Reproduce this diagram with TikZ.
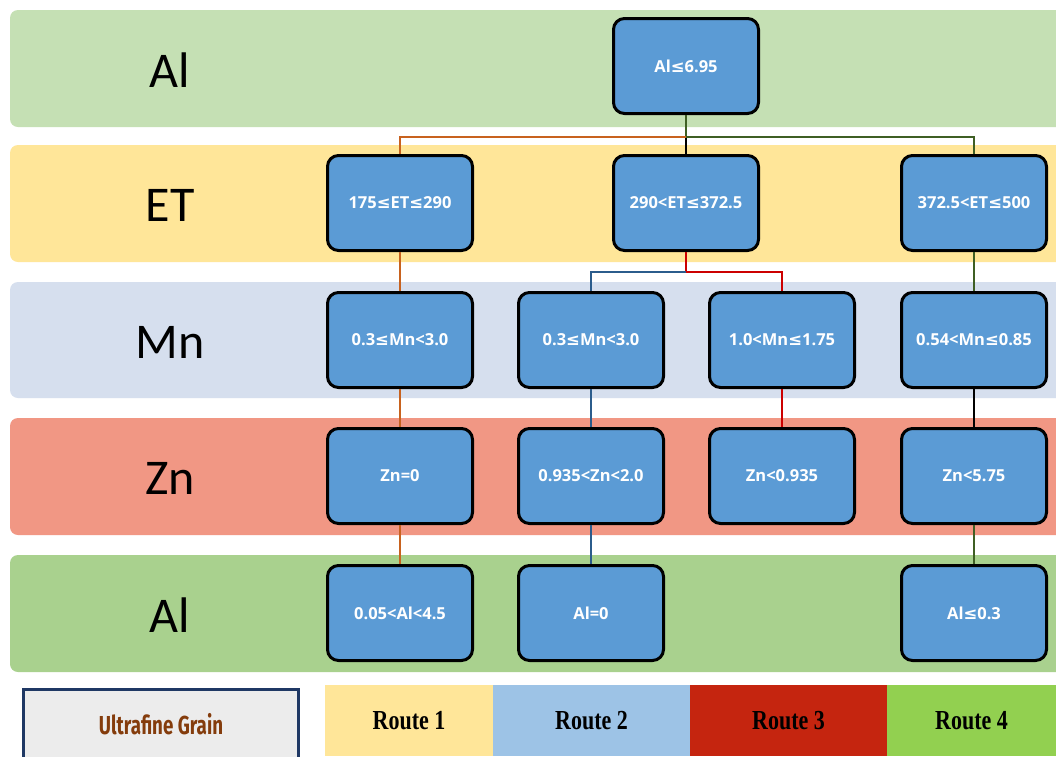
\documentclass[tikz,border=0pt]{standalone}
\usepackage{fontspec}
\setmainfont{Liberation Serif}
\newfontfamily\boxfont{Open Sans}
\newfontfamily\symfont{DejaVu Sans}
\newfontfamily\labfont{Carlito}
\newfontfamily\ufgfont{Fira Sans}
\newcommand{\lesym}{{\symfont\bfseries ≤}}
\usetikzlibrary{calc}
\definecolor{bandA}{HTML}{C5E0B4}
\definecolor{bandB}{HTML}{FFE699}
\definecolor{bandC}{HTML}{D6DFEE}
\definecolor{bandD}{HTML}{F19784}
\definecolor{bandE}{HTML}{A9D18E}
\definecolor{boxblue}{HTML}{5B9BD5}
\definecolor{lorange}{HTML}{C8621E}
\definecolor{lgreen}{HTML}{3F5F24}
\definecolor{lblue}{HTML}{2B5C8C}
\definecolor{lred}{HTML}{CC0000}
\definecolor{legR1}{HTML}{FFE699}
\definecolor{legR2}{HTML}{9DC3E6}
\definecolor{legR3}{HTML}{C5250F}
\definecolor{legR4}{HTML}{92D050}
\definecolor{ufgborder}{HTML}{1F3864}
\definecolor{ufgfill}{HTML}{ECECEC}
\definecolor{ufgtext}{HTML}{843C0C}
\tikzset{
  band/.style={rounded corners=8pt, draw=none},
  cbox/.style={draw=black, line width=3pt, fill=boxblue, rounded corners=11pt,
    minimum width=145pt, minimum height=95pt, inner sep=0pt,
    text=white, font=\boxfont\bfseries\fontsize{16.5}{19}\selectfont},
  rowlab/.style={font=\labfont\fontsize{50}{56}\selectfont, text=black},
  conn/.style={line width=2.6pt},
  legbox/.style={draw=none, minimum height=71pt, inner sep=0pt,
    font=\bfseries\fontsize{25}{28}\selectfont, text=black},
}
\begin{document}
\begin{tikzpicture}[x=1pt,y=-1pt]
\clip (0,0) rectangle (1056,756);
\fill[white] (0,0) rectangle (1056,756);
% bands
\fill[band, fill=bandA] (10,10) rectangle (1080,127);
\fill[band, fill=bandB] (10,145) rectangle (1080,262);
\fill[band, fill=bandC] (10,282) rectangle (1080,398);
\fill[band, fill=bandD] (10,418) rectangle (1080,535);
\fill[band, fill=bandE] (10,555) rectangle (1080,672);
% row labels
\node[rowlab] (l1) at (170,70) {Al};
\node[rowlab] (l2) at (170,205) {ET};
\node[rowlab] (l3) at (170,342) {Mn};
\node[rowlab] (l4) at (170,478) {Zn};
\node[rowlab] (l5) at (170,615) {Al};
% boxes
\node[cbox] (a1) at (686,66) {Al\lesym6.95};
\node[cbox] (et1) at (400,203) {175\lesym ET\lesym290};
\node[cbox] (et2) at (686,203) {290<ET\lesym372.5};
\node[cbox] (et3) at (974,203) {372.5<ET\lesym500};
\node[cbox] (mn1) at (400,340) {0.3\lesym Mn<3.0};
\node[cbox] (mn2) at (591,340) {0.3\lesym Mn<3.0};
\node[cbox] (mn3) at (782,340) {1.0<Mn\lesym1.75};
\node[cbox] (mn4) at (974,340) {0.54<Mn\lesym0.85};
\node[cbox] (zn1) at (400,476) {Zn=0};
\node[cbox] (zn2) at (591,476) {0.935<Zn<2.0};
\node[cbox] (zn3) at (782,476) {Zn<0.935};
\node[cbox] (zn4) at (974,476) {Zn<5.75};
\node[cbox] (al1) at (400,613) {0.05<Al<4.5};
\node[cbox] (al2) at (591,613) {Al=0};
\node[cbox] (al4) at (974,613) {Al\lesym0.3};
% junctions
\coordinate (j1) at (686,137);
\coordinate (j2) at (686,272);
% connectors
\draw[conn, lgreen] (a1.south) -- (j1);
\draw[conn, black] (j1) -- (et2.north);
\draw[conn, lorange] (j1) -| (et1.north);
\draw[conn, lgreen] (j1) -| (et3.north);
\draw[conn, lorange] (et1.south) -- (mn1.north);
\draw[conn, lorange] (mn1.south) -- (zn1.north);
\draw[conn, lorange] (zn1.south) -- (al1.north);
\draw[conn, lred] (et2.south) -- (j2);
\draw[conn, lblue] (j2) -| (mn2.north);
\draw[conn, lred] (j2) -| (mn3.north);
\draw[conn, lblue] (mn2.south) -- (zn2.north);
\draw[conn, lblue] (zn2.south) -- (al2.north);
\draw[conn, lred] (mn3.south) -- (zn3.north);
\draw[conn, lgreen] (et3.south) -- (mn4.north);
\draw[conn, black] (mn4.south) -- (zn4.north);
\draw[conn, lgreen] (zn4.south) -- (al4.north);
% legend
\node[draw=ufgborder, line width=3pt, fill=ufgfill, minimum width=275pt, minimum height=70pt,
  inner sep=0pt, text=ufgtext, font=\ufgfont\bfseries\fontsize{26}{30}\selectfont] (ufg) at (161,724) {\scalebox{0.72}[1]{Ultrafine Grain}};
\node[legbox, fill=legR1, minimum width=168pt] (r1) at (409,720.5) {\scalebox{0.88}[1.1]{Route 1}};
\node[legbox, fill=legR2, minimum width=197pt] (r2) at (591.5,720.5) {\scalebox{0.88}[1.1]{Route 2}};
\node[legbox, fill=legR3, minimum width=197pt] (r3) at (788.5,720.5) {\scalebox{0.88}[1.1]{Route 3}};
\node[legbox, fill=legR4, minimum width=169pt] (r4) at (971.5,720.5) {\scalebox{0.88}[1.1]{Route 4}};
\end{tikzpicture}
\end{document}
